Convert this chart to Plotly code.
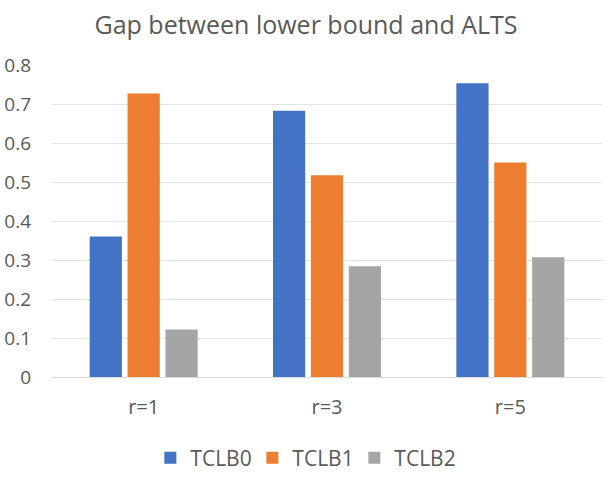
import plotly.graph_objects as go

categories = ["r=1", "r=3", "r=5"]
series_names = ["TCLB0", "TCLB1", "TCLB2"]
tclb0 = [0.36, 0.683, 0.753]
tclb1 = [0.727, 0.517, 0.55]
tclb2 = [0.122, 0.284, 0.307]
colors = ["#4472C4", "#ED7D31", "#A5A5A5"]
y_ticks = [0, 0.1, 0.2, 0.3, 0.4, 0.5, 0.6, 0.7, 0.8]
y_tick_labels = ["0", "0.1", "0.2", "0.3", "0.4", "0.5", "0.6", "0.7", "0.8"]

fig = go.Figure()
for name, vals, c in zip(series_names, [tclb0, tclb1, tclb2], colors):
    fig.add_trace(go.Bar(x=categories, y=vals, name=name, marker_color=c,
                         marker_line_width=0))

font = "'Open Sans', sans-serif"
fig.update_layout(
    width=606, height=484,
    margin=dict(l=52, r=4, t=65, b=107, autoexpand=False),
    paper_bgcolor="white", plot_bgcolor="white",
    barmode="group", bargap=0.38, bargroupgap=0.15,
    title=dict(text="Gap between lower bound and ALTS", x=0.505, xanchor="center",
               y=0.948, yanchor="middle",
               font=dict(family=font, size=25, color="#595959")),
    font=dict(family=font, color="#595959"),
    showlegend=True,
    legend=dict(orientation="h", x=0.457, xanchor="center", y=-0.26, yanchor="middle",
                font=dict(family=font, size=21, color="#595959"),
                itemwidth=30, entrywidth=57, traceorder="normal"),
    xaxis=dict(showgrid=False, showline=True, linecolor="#d9d9d9", linewidth=1,
               automargin=False, ticklabelstandoff=12,
               tickfont=dict(family=font, size=20, color="#595959"), ticks=""),
    yaxis=dict(range=[0, 0.8], tickvals=y_ticks, ticktext=y_tick_labels,
               showgrid=True, gridcolor="#e3e3e3", gridwidth=1,
               zeroline=False, showline=False, ticks="", automargin=False,
               ticklabelstandoff=20,
               tickfont=dict(family=font, size=19, color="#595959")),
)
fig.write_html("out.html", config={"displayModeBar": False},
               post_script="document.body.style.margin='0';")
